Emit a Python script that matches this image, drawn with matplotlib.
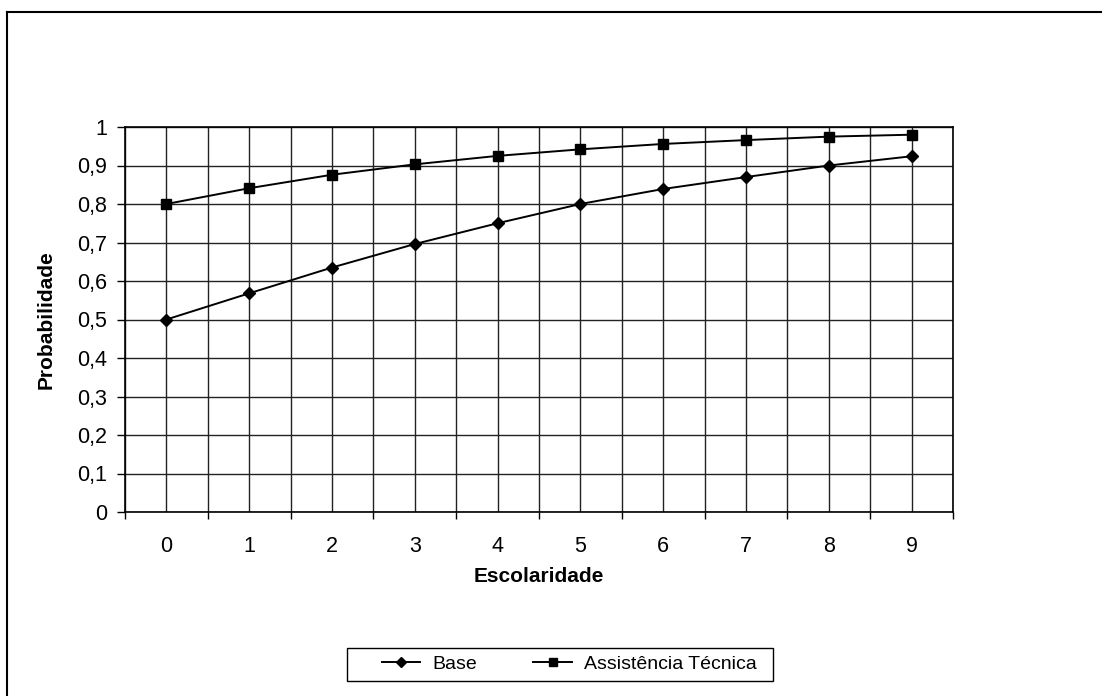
import numpy as np
import matplotlib
matplotlib.use("Agg")
import matplotlib.pyplot as plt
from matplotlib.lines import Line2D
from matplotlib.patches import Rectangle

plt.rcParams['font.family'] = ['Liberation Sans', 'DejaVu Sans']

# data
escolaridade = [0, 1, 2, 3, 4, 5, 6, 7, 8, 9]
base = [0.500, 0.568, 0.635, 0.696, 0.750, 0.800, 0.839, 0.870, 0.900, 0.924]
assistencia = [0.800, 0.841, 0.876, 0.903, 0.925, 0.942, 0.956, 0.966, 0.975, 0.980]
y_ticks = [0, 0.1, 0.2, 0.3, 0.4, 0.5, 0.6, 0.7, 0.8, 0.9, 1.0]
y_labels = ['0', '0,1', '0,2', '0,3', '0,4', '0,5', '0,6', '0,7', '0,8', '0,9', '1']

W, H = 1102, 696
fig = plt.figure(figsize=(W / 100, H / 100), dpi=100)

# outer chart border (runs off the right and bottom edges)
fig.add_artist(Line2D([7 / W, 7 / W], [0, 1 - 12 / H], color='black', lw=1.5,
                      transform=fig.transFigure))
fig.add_artist(Line2D([7 / W, 1], [1 - 12 / H, 1 - 12 / H], color='black', lw=1.5,
                      transform=fig.transFigure))

ax = fig.add_axes([125 / W, 1 - 512 / H, (953 - 125) / W, (512 - 127) / H])

x = np.array(escolaridade)
ax.plot(x, base, color='black', lw=1.4, marker='D', ms=6.5, label='Base')
ax.plot(x, assistencia, color='black', lw=1.4, marker='s', ms=7, label='Assistência Técnica')

ax.set_xlim(-0.5, 9.5)
ax.set_ylim(0, 1)

# labels at category centres, tick marks at category boundaries
ax.set_xticks(x)
ax.set_xticklabels([str(v) for v in escolaridade])
ax.set_xticks(np.arange(-0.5, 10, 1), minor=True)
ax.tick_params(axis='x', which='major', length=0, pad=17, labelsize=15.5)
ax.tick_params(axis='x', which='minor', length=5, width=1, direction='out')
ax.set_yticks(y_ticks)
ax.set_yticklabels(y_labels)
ax.tick_params(axis='y', length=6, width=1, direction='out', pad=7, labelsize=15.5)

ax.grid(True, which='both', axis='x', color='#222222', lw=1)
ax.grid(True, which='major', axis='y', color='#222222', lw=1)
ax.set_axisbelow(True)
for s in ax.spines.values():
    s.set_color('black')
    s.set_linewidth(1.2)

ax.set_xlabel('Escolaridade', fontsize=15, fontweight='bold')
ax.set_ylabel('Probabilidade', fontsize=15, fontweight='bold')
ax.xaxis.set_label_coords(0.5, -0.142)
ax.yaxis.set_label_coords(-0.084, 0.5)

# legend: frame drawn separately so the box can be wider than the entries
fig.add_artist(Rectangle((347 / W, 1 - 681 / H), (773 - 347) / W, 33 / H,
                         transform=fig.transFigure, fill=False,
                         edgecolor='black', lw=1.0))
leg = fig.legend(loc='center', bbox_to_anchor=(569 / W, 1 - 664 / H), ncol=2,
                 fontsize=14, frameon=False,
                 handlelength=2.0, columnspacing=2.9, handletextpad=0.6,
                 borderpad=0.3, borderaxespad=0, markerscale=0.8)

fig.savefig('out.png', dpi=100, facecolor='white')
